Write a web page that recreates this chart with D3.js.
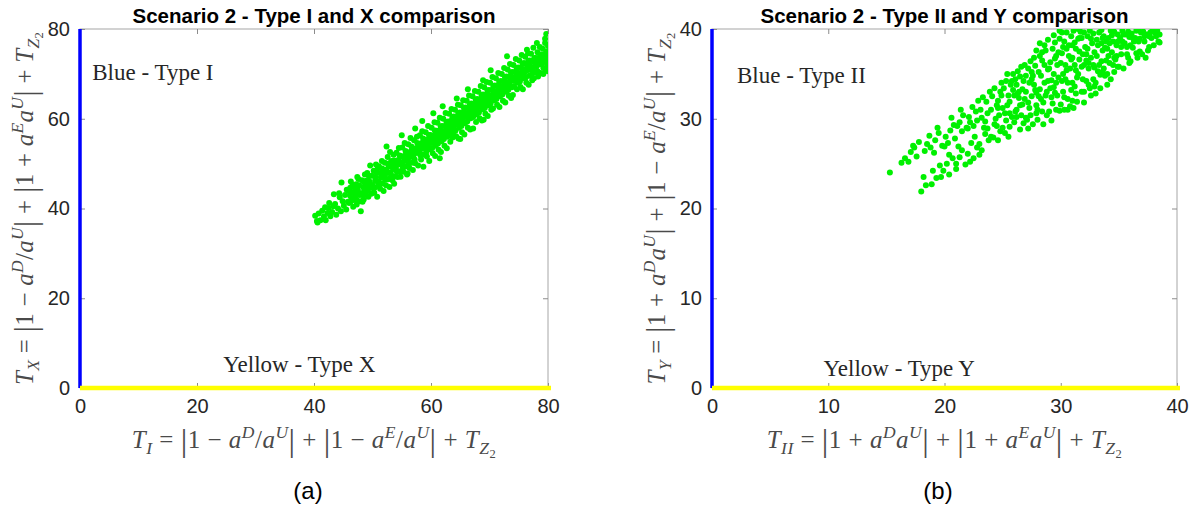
<!DOCTYPE html>
<html>
<head>
<meta charset="utf-8">
<script src="https://cdnjs.cloudflare.com/ajax/libs/d3/7.8.5/d3.min.js"></script>
<style>
  html, body { margin: 0; padding: 0; background: #fff; }
  svg { display: block; }
</style>
</head>
<body>
<svg id="chart" width="1197" height="508"></svg>
<script>
// ---------------- DATA ----------------
const titleA = "Scenario 2 - Type I and X comparison";
const titleB = "Scenario 2 - Type II and Y comparison";
const ticksA = [0, 20, 40, 60, 80];
const ticksB = [0, 10, 20, 30, 40];
const captionA = "(a)";
const captionB = "(b)";
const blueTextA = "Blue - Type I";
const yellowTextA = "Yellow - Type X";
const blueTextB = "Blue - Type II";
const yellowTextB = "Yellow - Type Y";

// Panel (a) scatter points [T_I, T_X]
const pointsA = [
[40.2,38.4],[40.5,37.2],[40.8,38.9],[40.6,36.9],
[41.1,37.4],[41.4,39.5],[41.7,38.2],[41.9,40.3],
[42.0,37.4],[42.3,39.0],[42.6,41.2],[42.8,38.3],[42.5,40.1],
[43.1,39.2],[43.4,43.2],[43.6,41.0],[43.8,38.6],[43.3,40.5],
[44.1,40.0],[44.4,42.5],[44.7,45.8],[44.6,39.4],[44.9,41.6],[44.3,43.4],
[45.1,40.6],[45.3,43.0],[45.6,44.2],[45.8,41.5],[45.5,39.8],[45.9,43.9],
[46.0,41.2],[46.2,44.6],[46.4,42.3],[46.6,45.3],[46.7,40.4],[46.9,43.5],[46.3,46.0],[46.8,41.9],
[47.0,42.5],[47.2,45.4],[47.3,40.9],[47.5,44.1],[47.6,46.6],[47.8,43.0],[47.9,41.6],[47.4,47.0],
[48.0,39.4],[48.1,43.4],[48.2,46.3],[48.4,44.8],[48.5,42.0],[48.7,47.6],[48.8,45.2],[48.9,43.1],[48.3,41.5],
[49.0,44.3],[49.1,47.9],[49.3,42.6],[49.4,46.2],[49.6,49.6],[49.7,45.0],[49.8,43.3],[49.9,47.3],[49.5,44.6],
[50.0,45.2],[50.2,48.4],[50.3,43.5],[50.5,47.0],[50.6,49.8],[50.8,42.6],[50.8,46.1],[50.9,48.9],[50.4,44.7],
[51.0,46.0],[51.1,49.4],[51.3,44.4],[51.4,47.8],[51.6,50.6],[51.7,45.6],[51.8,48.6],[51.9,43.9],[51.5,46.9],
[52.0,47.2],[52.1,50.2],[52.3,45.2],[52.4,48.7],[52.6,51.5],[52.7,46.5],[52.8,49.4],[52.9,44.8],[52.5,47.9],
[53.0,52.6],[53.1,48.0],[53.2,50.6],[53.4,46.3],[53.5,49.5],[53.6,52.0],[53.8,47.2],[53.9,50.1],[53.7,45.5],
[54.0,49.0],[54.1,52.4],[54.3,47.0],[54.4,50.8],[54.5,53.5],[54.7,48.3],[54.8,47.1],[54.9,51.6],[54.6,50.0],
[55.0,50.2],[55.1,53.6],[55.3,48.2],[55.4,51.7],[55.5,54.6],[55.7,49.4],[55.8,52.4],[55.9,47.6],[55.6,51.0],
[56.0,51.1],[56.1,54.3],[56.3,49.0],[56.4,52.6],[56.5,55.7],[56.7,50.2],[56.8,53.3],[56.9,48.6],[56.6,51.8],
[57.0,51.8],[57.1,55.2],[57.3,57.8],[57.3,50.1],[57.5,53.5],[57.6,56.0],[57.8,49.6],[57.9,54.2],[57.7,52.4],
[58.0,52.7],[58.1,56.3],[58.3,50.9],[58.4,54.6],[58.5,57.2],[58.7,49.3],[58.7,52.0],[58.9,55.3],[58.6,53.6],
[59.0,53.6],[59.1,57.0],[59.3,51.6],[59.4,55.4],[59.5,58.4],[59.7,50.6],[59.8,53.2],[59.9,56.4],[59.6,54.7],
[60.0,54.6],[60.1,58.0],[60.3,52.3],[60.4,61.2],[60.4,56.2],[60.6,59.2],[60.7,51.7],[60.8,54.0],[60.9,57.3],[60.5,55.5],
[61.0,55.4],[61.1,59.1],[61.3,53.1],[61.4,57.3],[61.5,60.2],[61.7,52.6],[61.8,55.0],[61.9,58.4],[61.6,56.6],
[62.0,56.5],[62.1,60.0],[62.3,54.0],[62.4,58.4],[62.5,61.3],[62.7,53.4],[62.8,56.0],[62.9,59.4],[62.6,57.6],
[63.0,57.4],[63.1,61.1],[63.3,54.9],[63.4,59.5],[63.5,62.2],[63.7,55.8],[63.8,57.0],[63.9,60.5],[63.6,58.6],
[64.0,58.5],[64.1,62.0],[64.3,56.1],[64.4,64.5],[64.4,60.3],[64.6,63.1],[64.7,55.6],[64.8,58.0],[64.9,61.4],[64.5,59.6],
[65.0,59.4],[65.1,63.0],[65.3,57.0],[65.4,61.3],[65.5,64.1],[65.7,56.5],[65.8,59.0],[65.9,62.5],[65.6,60.5],
[66.0,60.5],[66.1,64.0],[66.3,58.0],[66.4,62.3],[66.5,65.2],[66.7,57.6],[66.8,60.1],[66.9,63.4],[66.6,61.6],
[67.0,61.4],[67.1,65.0],[67.2,57.8],[67.4,63.3],[67.5,66.2],[67.7,59.3],[67.8,61.0],[67.9,64.4],[67.6,62.6],
[68.0,62.5],[68.1,66.0],[68.3,60.1],[68.4,64.3],[68.5,67.3],[68.7,59.6],[68.8,62.1],[68.9,68.6],[68.6,63.6],[68.9,65.4],
[69.0,63.4],[69.1,67.0],[69.3,61.1],[69.4,65.3],[69.5,68.2],[69.7,60.6],[69.8,63.0],[69.9,66.4],[69.6,64.6],
[70.0,64.5],[70.1,68.0],[70.3,62.0],[70.4,66.4],[70.5,69.3],[70.6,62.3],[70.8,64.1],[70.9,67.4],[70.7,65.6],
[71.0,65.4],[71.1,69.0],[71.3,63.1],[71.4,67.3],[71.5,70.2],[71.7,62.6],[71.8,65.0],[71.9,68.4],[71.6,66.6],
[72.0,66.5],[72.1,70.0],[72.3,64.0],[72.4,68.4],[72.5,71.3],[72.7,63.6],[72.8,66.0],[72.9,69.4],[72.6,67.6],
[73.0,73.9],[73.0,67.4],[73.1,71.0],[73.3,65.1],[73.4,69.3],[73.5,72.2],[73.7,64.6],[73.8,67.0],[73.9,70.4],[73.6,68.6],
[74.0,65.3],[74.1,72.0],[74.2,68.4],[74.4,70.4],[74.5,73.3],[74.7,66.6],[74.8,68.0],[74.9,71.4],[74.6,69.6],
[75.0,69.4],[75.1,73.0],[75.3,67.1],[75.4,71.3],[75.5,74.2],[75.7,66.6],[75.8,69.0],[75.9,72.4],[75.6,70.6],
[76.0,70.3],[76.1,73.8],[76.3,68.0],[76.4,75.4],[76.4,72.0],[76.6,74.6],[76.7,67.6],[76.8,69.6],[76.9,73.0],[76.5,71.3],
[77.0,70.9],[77.1,74.5],[77.3,68.6],[77.4,72.8],[77.5,75.8],[77.6,69.0],[77.7,70.3],[77.8,73.6],[77.9,71.8],
[78.0,71.6],[78.1,76.9],[78.2,74.8],[78.3,69.4],[78.4,73.4],[78.6,76.0],[78.7,70.2],[78.8,72.3],[78.9,74.3],[78.5,72.9],
[79.0,72.3],[79.1,75.6],[79.2,70.0],[79.4,74.2],[79.5,76.9],[79.6,70.8],[79.7,73.0],[79.8,75.0],[79.9,71.9],[79.7,78.9],[79.5,77.8],
[80.0,70.6],[80.0,72.8],[80.0,74.6],[80.0,76.2],
[46.25,41.5],[46.55,43.6],[46.85,44.8],[46.15,42.9],
[47.25,42.0],[47.45,43.5],[47.7,45.2],[47.15,44.4],
[48.25,43.0],[48.6,44.1],[48.45,46.0],[48.95,46.2],
[49.2,44.0],[49.55,45.8],[49.35,47.3],[49.85,44.7],
[50.15,44.5],[50.45,46.2],[50.7,48.0],[50.95,45.0],
[51.2,45.2],[51.45,47.0],[51.65,48.9],[51.95,47.7],
[52.2,46.4],[52.45,48.0],[52.65,50.0],[52.95,46.8],
[53.25,47.3],[53.45,49.0],[53.7,50.7],[53.95,48.6],
[54.2,48.2],[54.45,49.8],[54.65,51.8],[54.95,50.3],
[55.2,49.1],[55.45,50.6],[55.65,52.8],[55.95,51.5],
[56.2,50.0],[56.45,51.5],[56.65,53.8],[56.95,52.6],
[57.2,50.9],[57.45,52.4],[57.65,54.6],[57.95,53.1],
[58.2,51.8],[58.45,53.3],[58.65,55.6],[58.95,54.2],
[59.2,52.6],[59.45,54.1],[59.65,56.4],[59.95,55.2],
[60.2,53.5],[60.45,55.0],[60.65,57.4],[60.95,56.2],
[61.2,54.5],[61.45,56.0],[61.65,58.3],[61.95,57.2],
[62.2,55.5],[62.45,57.0],[62.65,59.3],[62.95,58.3],
[63.2,56.4],[63.45,58.0],[63.65,60.2],[63.95,59.2],
[64.2,57.4],[64.45,59.0],[64.65,61.3],[64.95,60.3],
[65.2,58.4],[65.45,60.0],[65.65,62.3],[65.95,61.3],
[66.2,59.4],[66.45,61.0],[66.65,63.2],[66.95,62.3],
[67.2,60.4],[67.45,62.0],[67.65,64.3],[67.95,63.3],
[68.2,61.4],[68.45,63.0],[68.65,65.2],[68.95,64.3],
[69.2,62.4],[69.45,64.0],[69.65,66.3],[69.95,65.2],
[70.2,63.4],[70.45,65.0],[70.65,67.3],[70.95,66.2],
[71.2,64.4],[71.45,66.0],[71.65,68.2],[71.95,67.2],
[72.2,65.4],[72.45,67.0],[72.65,69.3],[72.95,68.2],
[73.2,66.4],[73.45,68.0],[73.65,70.3],[73.95,69.2],
[74.2,67.2],[74.45,69.0],[74.65,71.2],[74.95,70.2],
[75.2,68.3],[75.45,70.0],[75.65,72.2],[75.95,71.0],
[76.2,69.2],[76.45,70.8],[76.65,72.9],[76.95,71.8],
[77.2,69.8],[77.45,71.4],[77.65,73.5],[77.95,72.6],
[78.2,70.6],[78.45,72.1],[78.65,74.1],[78.95,73.4],
[79.2,71.3],[79.45,72.8],[79.65,74.7],[79.95,73.9],
[58.5,59.5],[62.0,62.8],[66.3,66.6],[70.2,70.8],[55.0,56.3],[52.4,53.8],
[61.5,51.2],[65.0,55.5],[69.0,59.8],[56.0,47.8]
];

// Panel (b) scatter points [T_II, T_Y]
const pointsB = [
[15.3,24.0],
[16.3,25.1],[16.6,25.6],
[17.1,26.3],[17.4,26.8],[17.6,25.8],[17.3,27.0],
[18.0,21.9],[18.2,23.5],[18.4,22.6],[18.5,27.2],[18.7,28.1],[18.3,26.4],
[18.9,22.7],[19.0,24.2],[19.3,23.4],[19.6,24.8],[19.2,27.6],[19.5,28.4],[19.8,27.0],[19.4,29.0],
[19.9,24.2],[20.2,25.0],[20.4,23.8],[20.7,25.6],[20.1,28.0],[20.5,28.7],[20.8,29.3],[20.3,27.3],[20.6,30.1],
[21.0,25.0],[21.3,25.7],[21.5,26.5],[21.8,24.9],[21.2,26.9],[21.1,29.2],[21.3,29.6],[21.6,30.4],[21.9,29.0],[21.4,31.0],
[22.0,26.1],[22.3,27.3],[22.5,25.6],[22.8,26.8],[22.6,28.0],[22.1,30.2],[22.4,31.3],[22.7,30.8],[22.9,32.0],[22.2,29.6],[22.5,29.2],
[23.0,27.2],[23.2,26.5],[23.5,28.3],[23.8,27.6],[23.4,29.0],[23.1,31.0],[23.3,32.4],[23.6,31.9],[23.9,33.0],[23.7,30.6],[23.2,30.1],
[24.0,28.0],[24.2,27.9],[24.5,29.2],[24.8,28.6],[24.4,30.0],[24.7,30.4],[24.1,32.5],[24.3,33.4],[24.6,32.0],[24.9,34.0],[24.5,31.5],[24.8,33.0],
[25.0,29.0],[25.2,30.6],[25.4,31.5],[25.6,29.1],[25.8,30.2],[25.1,33.4],[25.3,34.2],[25.5,32.6],[25.7,33.8],[25.9,35.0],[25.6,31.9],[25.2,28.4],
[26.0,29.6],[26.2,31.0],[26.4,32.3],[26.6,30.4],[26.8,29.5],[26.1,34.4],[26.3,35.3],[26.5,34.7],[26.7,33.3],[26.9,36.0],[26.4,33.0],[26.7,31.6],[26.2,30.2],
[27.0,30.1],[27.1,29.9],[27.3,31.2],[27.5,32.5],[27.7,33.8],[27.9,30.6],[27.2,35.6],[27.4,36.4],[27.6,34.8],[27.8,35.9],[27.3,34.0],[27.6,29.4],[27.9,32.9],
[28.0,31.0],[28.2,37.0],[28.3,32.2],[28.5,29.4],[28.6,34.0],[28.8,30.4],[28.1,35.2],[28.4,36.5],[28.7,37.6],[28.9,35.5],[28.2,33.3],[28.5,31.8],[28.8,33.0],[28.6,38.2],
[29.0,30.8],[29.2,32.4],[29.4,33.5],[29.6,31.0],[29.8,34.6],[29.1,36.3],[29.3,37.8],[29.5,38.5],[29.7,36.0],[29.9,38.9],[29.4,35.0],[29.7,32.6],[29.2,34.3],[29.9,30.9],
[30.0,31.6],[30.2,33.0],[30.4,34.4],[30.6,32.2],[30.8,35.6],[30.1,37.3],[30.3,38.6],[30.5,39.6],[30.7,37.0],[30.9,39.2],[30.4,36.0],[30.6,34.0],[30.2,35.0],[30.8,31.4],[30.9,33.2],
[31.0,32.0],[31.1,39.8],[31.2,33.6],[31.4,31.9],[31.5,35.0],[31.6,36.6],[31.8,33.0],[31.3,37.8],[31.5,38.9],[31.7,39.7],[31.9,37.2],[31.4,34.6],[31.8,35.8],[31.2,36.0],
[32.0,33.0],[32.2,34.2],[32.5,33.4],[32.4,35.6],[32.6,36.8],[32.8,34.4],[32.1,38.0],[32.3,39.2],[32.5,39.8],[32.7,38.4],[32.9,37.4],[32.2,36.5],[32.6,32.6],[32.9,35.7],
[33.0,34.0],[33.2,35.3],[33.4,34.9],[33.5,36.4],[33.6,37.6],[33.8,34.8],[33.1,38.8],[33.3,39.6],[33.5,38.4],[33.7,39.2],[33.9,36.5],[33.4,33.4],[33.8,37.9],
[34.0,35.0],[34.2,36.2],[34.4,37.4],[34.6,35.2],[34.8,38.2],[34.1,39.0],[34.3,39.8],[34.5,38.6],[34.7,36.6],[34.9,39.4],[34.3,34.4],[34.8,37.0],
[35.0,35.8],[35.2,37.2],[35.4,35.6],[35.5,38.4],[35.6,39.4],[35.8,36.8],[35.1,39.0],[35.3,39.8],[35.7,38.0],[35.9,39.1],[35.9,36.2],
[36.0,36.4],[36.2,37.9],[36.4,39.0],[36.5,37.3],[36.7,38.6],[36.9,39.6],[36.1,39.5],[36.6,36.8],[36.8,37.5],
[37.0,37.2],[37.2,38.6],[37.4,39.4],[37.6,38.0],[37.8,39.0],[37.9,40.0],[37.3,36.8],[37.7,39.6],
[38.0,38.2],[38.2,39.2],[38.4,38.6],[38.5,38.5],[38.3,39.8],[38.5,39.4],
[24.3,29.4],[24.6,31.2],[24.9,32.6],[25.3,29.8],[25.6,30.6],[25.9,33.2],[25.4,35.0],[26.1,30.8],[26.5,31.5],[26.3,32.8],
[26.8,34.2],[26.6,35.8],[27.0,33.0],[27.2,31.8],[27.5,34.4],[27.7,36.8],[27.9,31.5],[27.4,30.4],[28.1,32.5],[28.3,34.8],
[28.4,30.8],[28.6,36.0],[28.9,34.2],[28.9,38.8],[28.2,38.4],[29.1,33.4],[29.3,31.7],[29.5,36.7],[29.6,34.0],[29.8,37.4],
[29.4,39.3],[29.9,39.8],[30.0,36.2],[30.3,32.4],[30.5,35.4],[30.7,38.2],[30.1,39.6],[30.9,36.6],[30.6,31.0],[31.0,34.0],
[31.2,38.5],[31.3,32.8],[31.6,37.5],[31.8,39.0],[31.9,34.4],[31.5,40.0],[32.0,36.0],[32.2,37.2],[32.4,33.8],[32.6,38.9],
[32.8,36.0],[32.0,39.6],[32.9,33.6],[33.1,37.0],[33.3,36.0],[33.5,39.9],[33.7,35.6],[33.9,38.6],[34.0,37.8],[34.2,38.4],
[34.5,36.0],[34.6,39.7],[34.9,35.8],[35.2,38.0],[35.4,39.4],[35.7,37.2],[36.0,38.2],[36.3,38.6],[36.5,39.8],[36.8,38.9],
[37.1,39.7],[37.5,37.6],[38.1,39.6],[30.5,37.8],[31.0,36.8],[29.0,35.6],[27.8,33.2],[26.0,32.6],[25.0,31.2],[24.0,31.0],
[23.5,29.7],[22.8,29.8],[22.0,28.9],[21.5,28.6],[20.9,27.8],[20.0,26.9],[19.1,26.2],[18.8,26.8],[17.8,27.4],[16.9,25.2],
[21.0,24.4],[20.4,26.0],[19.7,23.5],[22.2,25.2],[23.0,26.0],[23.7,28.9],[24.6,27.6],[25.5,28.0],[26.5,28.8],[27.2,28.9],
[28.0,29.9],[29.2,29.8],[30.3,31.0],[31.1,31.2],[32.0,31.8],[33.0,32.8],[34.0,33.8],
[31.0,38.2],[31.6,39.0],[32.3,37.8],[32.8,39.5],[33.2,38.2],[33.6,39.0],[34.1,37.0],[34.4,39.3],[34.9,38.6],[35.3,38.6],
[35.8,39.7],[36.2,39.0],[36.7,39.9],[37.2,39.2],[37.6,39.2],[29.6,37.0],[30.2,38.0],[28.4,37.4],[27.9,37.6],[27.5,35.2],
[27.0,34.8],[26.2,33.8],[25.8,34.2],[26.9,32.2],[28.7,32.6],[29.5,32.9],[30.1,34.2],[31.3,35.4],[32.4,36.2],[33.6,35.2],[34.6,36.8]
];

// Axis label math segments: [text, style, level]
const xLabelA = [["T","i",0],["I","i",-1],[" = ","n",0],["|","bar",0],["1 − ","n",0],["a","i",0],["D","i",1],["/","n",0],["a","i",0],["U","i",1],["|","bar",0],[" + ","n",0],["|","bar",0],["1 − ","n",0],["a","i",0],["E","i",1],["/","n",0],["a","i",0],["U","i",1],["|","bar",0],[" + ","n",0],["T","i",0],["Z","i",-1],["2","n",-2]];
const yLabelA = [["T","i",0],["X","i",-1],[" = ","n",0],["|","bar",0],["1 − ","n",0],["a","i",0],["D","i",1],["/","n",0],["a","i",0],["U","i",1],["|","bar",0],[" + ","n",0],["|","bar",0],["1 + ","n",0],["a","i",0],["E","i",1],["a","i",0],["U","i",1],["|","bar",0],[" + ","n",0],["T","i",0],["Z","i",-1],["2","n",-2]];
const xLabelB = [["T","i",0],["II","i",-1],[" = ","n",0],["|","bar",0],["1 + ","n",0],["a","i",0],["D","i",1],["a","i",0],["U","i",1],["|","bar",0],[" + ","n",0],["|","bar",0],["1 + ","n",0],["a","i",0],["E","i",1],["a","i",0],["U","i",1],["|","bar",0],[" + ","n",0],["T","i",0],["Z","i",-1],["2","n",-2]];
const yLabelB = [["T","i",0],["Y","i",-1],[" = ","n",0],["|","bar",0],["1 + ","n",0],["a","i",0],["D","i",1],["a","i",0],["U","i",1],["|","bar",0],[" + ","n",0],["|","bar",0],["1 − ","n",0],["a","i",0],["E","i",1],["/","n",0],["a","i",0],["U","i",1],["|","bar",0],[" + ","n",0],["T","i",0],["Z","i",-1],["2","n",-2]];

// ---------------- DRAWING ----------------
const svg = d3.select("#chart");
const SANS = "'Liberation Sans', Arial, sans-serif";
const SERIF = "'Liberation Serif', 'Times New Roman', serif";
const LABEL_COLOR = "#4a4a4a";

function mathText(sel, segs, fs) {
  const levelSize = {0: 1, 1: 0.7, "-1": 0.7, "-2": 0.5};
  const levelOff = {0: 0, 1: -0.42, "-1": 0.22, "-2": 0.38};
  let cur = 0;
  segs.forEach(([t, st, lv]) => {
    const sizeF = st === "bar" ? 1.3 : levelSize[lv];
    const off = (st === "bar" ? 0.1 : levelOff[lv]) * fs;
    sel.append("tspan")
      .attr("dy", off - cur)
      .attr("font-size", fs * sizeF)
      .attr("font-style", st === "i" ? "italic" : "normal")
      .text(st === "n" ? t.replace(/ /g, "\u00a0") : t);
    cur = off;
  });
}

function panel(cfg) {
  const x = d3.scaleLinear().domain([cfg.ticks[0], cfg.ticks[cfg.ticks.length - 1]]).range([cfg.left, cfg.right]);
  const y = d3.scaleLinear().domain([cfg.ticks[0], cfg.ticks[cfg.ticks.length - 1]]).range([cfg.bottom, cfg.top]);
  const g = svg.append("g");
  const clipId = "clip" + cfg.id;
  svg.append("clipPath").attr("id", clipId).append("rect")
    .attr("x", cfg.left).attr("y", cfg.top)
    .attr("width", cfg.right - cfg.left).attr("height", cfg.bottom - cfg.top);

  g.append("rect").attr("x", cfg.left).attr("y", cfg.top)
    .attr("width", cfg.right - cfg.left).attr("height", cfg.bottom - cfg.top)
    .attr("fill", "#fff").attr("stroke", "#a6a6a6").attr("stroke-width", 1);

  const axStyle = (a) => {
    a.select(".domain").remove();
    a.selectAll(".tick line").attr("stroke", "#8c8c8c");
    a.selectAll(".tick text").attr("fill", "#262626").attr("font-family", SANS).attr("font-size", 20);
  };
  g.append("g").attr("transform", `translate(0,${cfg.bottom})`)
    .call(d3.axisBottom(x).tickValues(cfg.ticks).tickSize(-5).tickPadding(11).tickFormat(d3.format("d")))
    .call(axStyle);
  g.append("g").attr("transform", `translate(0,${cfg.top})`)
    .call(d3.axisTop(x).tickValues(cfg.ticks).tickSize(-5).tickFormat(""))
    .call(axStyle);
  g.append("g").attr("transform", `translate(${cfg.left},0)`)
    .call(d3.axisLeft(y).tickValues(cfg.ticks).tickSize(-5).tickPadding(10).tickFormat(d3.format("d")))
    .call(axStyle);
  g.append("g").attr("transform", `translate(${cfg.right},0)`)
    .call(d3.axisRight(y).tickValues(cfg.ticks).tickSize(-5).tickFormat(""))
    .call(axStyle);

  g.append("g").attr("clip-path", `url(#${clipId})`)
    .selectAll("circle").data(cfg.points).join("circle")
    .attr("cx", d => x(d[0])).attr("cy", d => y(d[1])).attr("r", 3)
    .attr("fill", "#00f000");

  const d0 = cfg.ticks[0], d1 = cfg.ticks[cfg.ticks.length - 1];
  g.append("line").attr("x1", x(d0)).attr("x2", x(d0)).attr("y1", y(d0)).attr("y2", y(d1))
    .attr("stroke", "#0000ff").attr("stroke-width", 3.5);
  g.append("line").attr("x1", x(d0)).attr("x2", x(d1) + 3).attr("y1", y(d0)).attr("y2", y(d0))
    .attr("stroke", "#ffff00").attr("stroke-width", 4.5);

  g.append("text").attr("x", x(cfg.blueAt[0])).attr("y", y(cfg.blueAt[1]))
    .attr("font-family", SERIF).attr("font-size", 23).attr("fill", "#262626").text(cfg.blueText);
  g.append("text").attr("x", x(cfg.yellowAt[0])).attr("y", y(cfg.yellowAt[1]))
    .attr("text-anchor", "middle")
    .attr("font-family", SERIF).attr("font-size", 23).attr("fill", "#262626").text(cfg.yellowText);

  g.append("text").attr("x", (cfg.left + cfg.right) / 2).attr("y", 23)
    .attr("text-anchor", "middle").attr("font-family", SANS).attr("font-weight", "bold")
    .attr("font-size", 20.5).attr("fill", "#000").text(cfg.title);

  const xl = g.append("text").attr("x", (cfg.left + cfg.right) / 2).attr("y", cfg.bottom + 60)
    .attr("text-anchor", "middle").attr("font-family", SERIF).attr("fill", LABEL_COLOR)
    .attr("letter-spacing", 0.5);
  mathText(xl, cfg.xLabel, 25);
  const yl = g.append("text")
    .attr("transform", `translate(${cfg.left - 47},${(cfg.top + cfg.bottom) / 2}) rotate(-90)`)
    .attr("text-anchor", "middle").attr("font-family", SERIF).attr("fill", LABEL_COLOR)
    .attr("letter-spacing", 0.25);
  mathText(yl, cfg.yLabel, 25);

  g.append("text").attr("x", cfg.captionX).attr("y", 499)
    .attr("text-anchor", "middle").attr("font-family", SANS).attr("font-size", 24)
    .attr("fill", "#000").text(cfg.caption);
}

panel({id: "A", left: 80, right: 548, top: 29, bottom: 388, ticks: ticksA, points: pointsA,
  title: titleA, blueText: blueTextA, yellowText: yellowTextA, blueAt: [2.1, 68.6], yellowAt: [37.5, 3.6],
  xLabel: xLabelA, yLabel: yLabelA, caption: captionA, captionX: 308});
panel({id: "B", left: 712, right: 1177, top: 29, bottom: 388, ticks: ticksB, points: pointsB,
  title: titleB, blueText: blueTextB, yellowText: yellowTextB, blueAt: [2.15, 34.0], yellowAt: [16.1, 1.3],
  xLabel: xLabelB, yLabel: yLabelB, caption: captionB, captionX: 938});
</script>
</body>
</html>
